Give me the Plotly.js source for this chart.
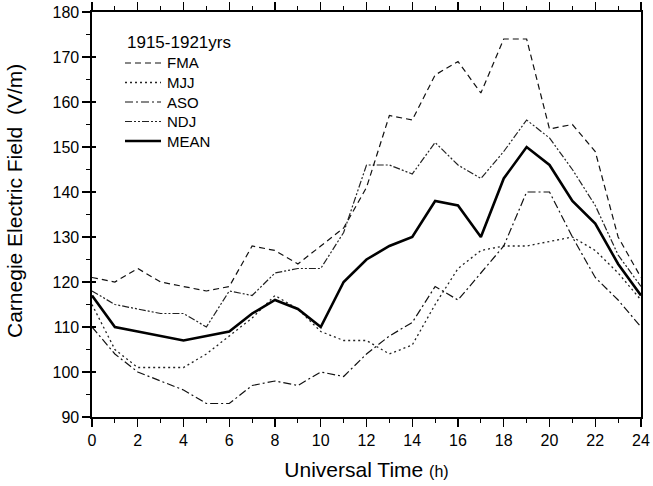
<!DOCTYPE html>
<html>
<head>
<meta charset="utf-8">
<script src="https://cdn.plot.ly/plotly-3.0.1.min.js"></script>
<style>html,body{margin:0;padding:0;background:#fff;}#chart{width:653px;height:486px;}</style>
</head>
<body>
<div id="chart"></div>
<script>
const hours = [0,1,2,3,4,5,6,7,8,9,10,11,12,13,14,15,16,17,18,19,20,21,22,23,24];
const FMA  = [121,120,123,120,119,118,119,128,127,124,128,132,141,157,156,166,169,162,174,174,154,155,149,130,121];
const MJJ  = [115,105,101,101,101,104,108,112,117,114,109,107,107,104,106,115,123,127,128,128,129,130,127,122,116];
const ASO  = [110,104,100,98,96,93,93,97,98,97,100,99,104,108,111,119,116,122,128,140,140,130,121,116,110];
const NDJ  = [118,115,114,113,113,110,118,117,122,123,123,131,146,146,144,151,146,143,149,156,152,145,137,126,119];
const MEAN = [117,110,109,108,107,108,109,113,116,114,110,120,125,128,130,138,137,130,143,150,146,138,133,124,117];
const seriesNames = ['FMA','MJJ','ASO','NDJ','MEAN'];
const legendTitle = '1915-1921yrs';
const xTicks = [0,2,4,6,8,10,12,14,16,18,20,22,24];
const yTicks = [90,100,110,120,130,140,150,160,170,180];

const styles = [
  {dash:'6px,4px', width:1.2, color:'#111'},
  {dash:'2px,3px', width:1.3, color:'#222'},
  {dash:'8px,3px,2px,3px', width:1.2, color:'#111'},
  {dash:'7px,2px,2px,2px,2px,2px', width:1.2, color:'#222'},
  {dash:'solid', width:2.6, color:'#000'}
];
const data = [FMA, MJJ, ASO, NDJ, MEAN].map((ys, i) => ({
  x: hours, y: ys, name: seriesNames[i], type: 'scatter', mode: 'lines', showlegend: false,
  line: {dash: styles[i].dash, width: styles[i].width, color: styles[i].color}
}));
data.push({x: [], y: [], yaxis: 'y2', showlegend: false, hoverinfo: 'skip', type: 'scatter'});

const font = 'Liberation Sans, Arial, sans-serif';
// plot area in pixels (for placing the key)
const L = 92, T = 12, W = 653 - 92 - 12, H = 486 - 12 - 69;
const px = v => (v - L) / W;
const py = v => 1 - (v - T) / H;

const shapes = [];
const annotations = [];
annotations.push({xref:'paper', yref:'paper', x: px(125), y: py(43), xanchor:'left', yanchor:'middle',
  text: legendTitle, showarrow:false, font:{family:font, size:17, color:'#000'}});
seriesNames.forEach((n, i) => {
  const yy = 63 + i * 19.5;
  shapes.push({type:'line', xref:'paper', yref:'paper', x0: px(125), x1: px(161), y0: py(yy), y1: py(yy),
    line:{dash: styles[i].dash, width: styles[i].width, color: styles[i].color}});
  annotations.push({xref:'paper', yref:'paper', x: px(165), y: py(yy), xanchor:'left', yanchor:'middle',
    text: n, showarrow:false, font:{family:font, size:15, color:'#000'}});
});
annotations.push({xref:'paper', yref:'paper', x: px(14), y: py(201), xanchor:'center', yanchor:'middle', textangle:-90,
  text: 'Carnegie Electric Field\u00a0\u00a0(V/m)', showarrow:false, font:{family:font, size:21, color:'#000'}});

const layout = {
  width: 653, height: 486,
  margin: {l: 92, r: 12, t: 12, b: 69},
  paper_bgcolor: '#fff', plot_bgcolor: '#fff',
  font: {family: font, color: '#000', size: 16},
  showlegend: false,
  shapes: shapes,
  annotations: annotations,
  xaxis: {
    range: [0, 24], tickvals: xTicks, ticktext: xTicks.map(String),
    ticks: 'outside', ticklen: 8, tickwidth: 1.3, tickcolor: '#000',
    minor: {dtick: 1, tick0: 0, ticks: 'outside', ticklen: 4, tickwidth: 1.2, tickcolor: '#000'},
    showline: true, linecolor: '#000', linewidth: 1.6, mirror: 'ticks',
    showgrid: false, zeroline: false,
    tickfont: {family: font, size: 16, color: '#000'},
    title: {text: 'Universal Time <span style="font-size:16px">(h)</span>', font: {family: font, size: 21, color: '#000'}, standoff: 14}
  },
  yaxis: {
    range: [90, 180], tickvals: yTicks, ticktext: yTicks.map(String),
    ticks: 'outside', ticklen: 8, tickwidth: 1.3, tickcolor: '#000',
    minor: {dtick: 5, tick0: 90, ticks: 'outside', ticklen: 4, tickwidth: 1.2, tickcolor: '#000'},
    showline: true, linecolor: '#000', linewidth: 1.6, mirror: true,
    showgrid: false, zeroline: false,
    tickfont: {family: font, size: 16, color: '#000'}
  },
  yaxis2: {
    overlaying: 'y', side: 'left', range: [90, 180], tickvals: yTicks,
    ticks: 'inside', ticklen: 4, tickwidth: 1.3, tickcolor: '#000',
    showticklabels: false, showline: false, showgrid: false, zeroline: false
  }
};
Plotly.newPlot('chart', data, layout, {staticPlot: true, displayModeBar: false});
</script>
</body>
</html>
